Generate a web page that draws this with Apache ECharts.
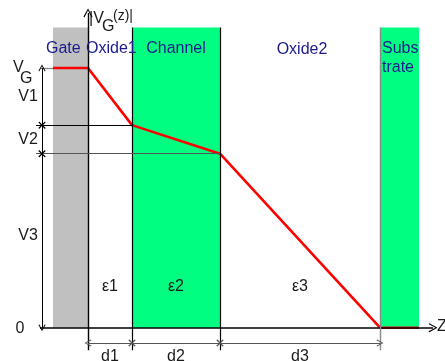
<!DOCTYPE html>
<html>
<head>
<meta charset="utf-8">
<script src="https://cdn.jsdelivr.net/npm/echarts@6/dist/echarts.min.js"></script>
<style>
  html, body { margin: 0; padding: 0; background: #fff; }
  #chart { width: 445px; height: 361px; }
</style>
</head>
<body>
<div id="chart"></div>
<script>
// Layer stack along z: gate | oxide 1 | channel | oxide 2 | substrate
const layerNames = ['Gate', 'Oxide1', 'Channel', 'Oxide2', 'Substrate'];
const gateWidth = 35;
const thickness = [44, 88, 160];          // d1, d2, d3
const substrateWidth = 39;

// Potential: gate voltage and the drop across each layer
const gateVoltage = 1.0;                  // V_G
const voltageDrops = [0.22, 0.11, 0.67];  // V1, V2, V3

const dimLabels = ['d1', 'd2', 'd3'];
const permLabels = ['\u03b51', '\u03b52', '\u03b53'];
const dropLabels = ['V1', 'V2', 'V3'];

// ---- derived geometry -------------------------------------------------
const zGate = -gateWidth;
const zB = [0];
thickness.forEach(function (d, i) { zB.push(zB[i] + d); });   // 0, z1, z2, z3
const zSub = zB[3] + substrateWidth;

const vB = [gateVoltage];
voltageDrops.forEach(function (v, i) { vB.push(+(vB[i] - v).toFixed(4)); });

const profile = [[zGate, gateVoltage]]
  .concat(zB.map(function (z, i) { return [z, vB[i]]; }))
  .concat([[zSub, 0]]);

// drawing extents (in data units)
const regionTop = 1.156;
const axisTop = 1.212;
const guideBottom = -0.087;
const dimY = -0.059;
const dimX = -46;
const guideLeft = -52;

const FONT = "'Liberation Sans', Arial, sans-serif";
const NAVY = '#1a1a8c';
const INK = '#1a1a1a';

// open chevron arrow head and small cross marker
const ARROW = 'path://M5,0 L10,9 L9,10 L5,2.4 L1,10 L0,9 Z';
const CROSS = 'path://M0,1 L1,0 L5,4 L9,0 L10,1 L6,5 L10,9 L9,10 L5,6 L1,10 L0,9 L4,5 Z';

function seg(a, b, s0, s1, color, width, size) {
  return [
    { coord: a, symbol: s0 || 'none', symbolSize: size || 8,
      lineStyle: { color: color || '#000', width: width || 1, type: 'solid' } },
    { coord: b, symbol: s1 || 'none', symbolSize: size || 8 }
  ];
}

const lines = [
  // z axis and potential axis
  seg([-48, 0], [345, 0], 'none', ARROW, '#000', 1.6, 9),
  seg([0, guideBottom], [0, axisTop], 'none', ARROW, '#000', 1.4, 9),
  // layer boundaries
  seg([zB[1], guideBottom], [zB[1], regionTop], 'none', 'none', '#000', 1.2),
  seg([zB[2], guideBottom], [zB[2], regionTop], 'none', 'none', '#000', 1.2),
  seg([zB[3], guideBottom], [zB[3], regionTop], 'none', 'none', '#8a8a8a', 1.4),
  // potential level guides
  seg([guideLeft + 5, vB[0]], [zGate, vB[0]], 'none', 'none', '#808080', 1.2),
  seg([guideLeft, vB[1]], [zB[1], vB[1]], 'none', 'none', '#000', 1),
  seg([guideLeft, vB[2]], [zB[2], vB[2]], 'none', 'none', '#555', 1.2),
  // voltage dimension line
  seg([dimX, vB[0]], [dimX, vB[1]], ARROW, CROSS, '#000', 1, 7),
  seg([dimX, vB[1]], [dimX, vB[2]], CROSS, CROSS, '#000', 1, 7),
  seg([dimX, vB[2]], [dimX, 0], CROSS, ARROW, '#000', 1, 7),
  // thickness dimension line
  seg([zB[0], dimY], [zB[1], dimY], ARROW, CROSS, '#555', 1, 7),
  seg([zB[1], dimY], [zB[2], dimY], CROSS, CROSS, '#555', 1, 7),
  seg([zB[2], dimY], [zB[3], dimY], CROSS, ARROW, '#555', 1, 7)
];

function mid(a, b) { return (a + b) / 2; }

function txt(z, v, text, opts) {
  opts = opts || {};
  return {
    value: [z, v],
    label: {
      formatter: text,
      align: opts.align || 'center',
      fontSize: opts.size || 16,
      color: opts.color || INK,
      textBorderWidth: 0,
      textBorderColor: 'transparent'
    }
  };
}

const labels = [
  txt(-42, 1.073, layerNames[0], { align: 'left', color: NAVY }),
  txt(-2, 1.073, layerNames[1], { align: 'left', color: NAVY }),
  txt(mid(zB[1], zB[2]), 1.073, layerNames[2], { color: NAVY }),
  txt(mid(zB[2], zB[3]) + 2, 1.069, layerNames[3], { color: NAVY }),
  txt(zB[3] + 2, 1.073, 'Subs', { align: 'left', color: NAVY }),
  txt(zB[3] + 2, 1.0, 'trate', { align: 'left', color: NAVY }),
  // axis titles
  txt(1, 1.189, '|V', { align: 'left' }),
  txt(14, 1.158, 'G', { align: 'left' }),
  txt(25, 1.2, '(z)|', { align: 'left', size: 14 }),
  txt(437 - 88, 0.004, 'Z', { align: 'left' }),
  txt(-75, 1.0, 'V', { align: 'left' }),
  txt(-68, 0.958, 'G', { align: 'left' }),
  txt(-68, -0.005, '0')
];
for (let i = 0; i < 3; i++) {
  const zc = mid(zB[i], zB[i + 1]);
  labels.push(txt(zc, 0.16, permLabels[i]));
  labels.push(txt(zc, -0.11, dimLabels[i]));
  const vc = mid(vB[i], vB[i + 1]) + (i === 2 ? 0.02 : 0);
  labels.push(txt(-60, vc, dropLabels[i]));
}

const chart = echarts.init(document.getElementById('chart'), null, { renderer: 'canvas' });
chart.setOption({
  animation: false,
  backgroundColor: '#fff',
  textStyle: { fontFamily: FONT },
  grid: { left: 0, right: 0, top: 0, bottom: 0 },
  xAxis: { type: 'value', min: -88, max: 357, show: false },
  yAxis: { type: 'value', min: -0.1282, max: 1.2618, show: false },
  series: [
    {
      name: 'layers',
      type: 'line',
      data: [],
      silent: true,
      markArea: {
        silent: true,
        label: { show: false },
        data: [
          [{ coord: [zGate, regionTop], itemStyle: { color: '#c0c0c0' } }, { coord: [zB[0], 0] }],
          [{ coord: [zB[1], regionTop], itemStyle: { color: '#00ff80' } }, { coord: [zB[2], 0] }],
          [{ coord: [zB[3], regionTop], itemStyle: { color: '#00ff80' } }, { coord: [zSub, 0] }]
        ]
      }
    },
    {
      name: 'guides',
      type: 'line',
      data: [],
      silent: true,
      z: 3,
      markLine: {
        silent: true,
        animation: false,
        label: { show: false },
        emphasis: { disabled: true },
        data: lines
      }
    },
    {
      name: '|V_G(z)|',
      type: 'line',
      data: profile,
      z: 4,
      symbol: 'none',
      lineStyle: { color: '#ff0000', width: 2.6 }
    },
    {
      name: 'labels',
      type: 'scatter',
      symbolSize: 0,
      silent: true,
      z: 5,
      itemStyle: { color: 'transparent', opacity: 1 },
      label: {
        show: true,
        position: 'inside',
        verticalAlign: 'middle',
        fontFamily: FONT,
        opacity: 1
      },
      data: labels
    }
  ]
});
</script>
</body>
</html>
